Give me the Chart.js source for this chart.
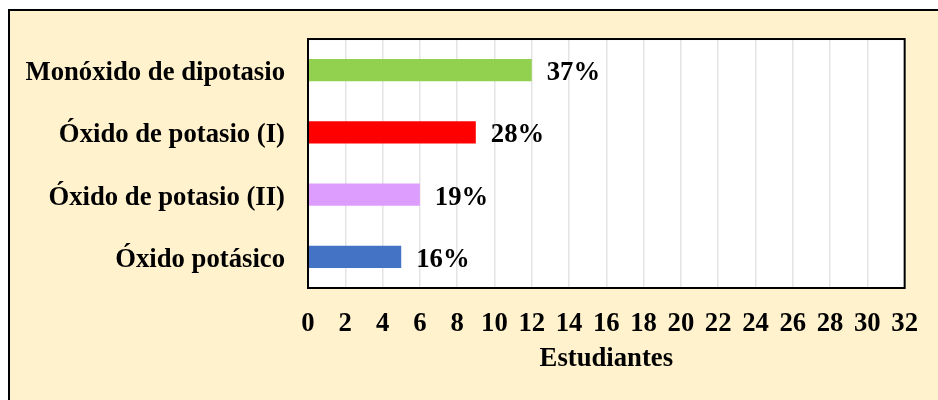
<!DOCTYPE html>
<html>
<head>
<meta charset="utf-8">
<script src="https://cdn.jsdelivr.net/npm/chart.js@4"></script>
<style>
  html, body { margin: 0; padding: 0; width: 938px; height: 400px; overflow: hidden; background: #fff; }
  #frame { position: absolute; left: 8px; top: 9px; width: 960px; height: 420px; border: 2px solid #000; background: #fff2cc; }
  #wrap { position: absolute; left: 0; top: 0; width: 938px; height: 400px; }
</style>
</head>
<body>
<div id="frame"></div>
<div id="wrap"><canvas id="chart"></canvas></div>
<script>
const categories = ["Monóxido de dipotasio", "Óxido de potasio (I)", "Óxido de potasio (II)", "Óxido potásico"];
const students = [12, 9, 6, 5];
const percentLabels = ["37%", "28%", "19%", "16%"];
const barColors = ["#92d050", "#ff0000", "#dd9dff", "#4472c4"];
const xMin = 0, xMax = 32, xStep = 2;

const FONT = { family: "'Liberation Serif', 'Times New Roman', serif", size: 26.7, weight: "bold" };

// white plot area + black frame
const plotFrame = {
  id: "plotFrame",
  beforeDraw(chart) {
    const { ctx, chartArea: a } = chart;
    ctx.save();
    ctx.fillStyle = "#ffffff";
    ctx.fillRect(a.left, a.top, a.right - a.left, a.bottom - a.top);
    ctx.restore();
  },
  afterDraw(chart) {
    const { ctx, chartArea: a } = chart;
    ctx.save();
    ctx.strokeStyle = "#000";
    ctx.lineWidth = 2;
    ctx.strokeRect(a.left, a.top, a.right - a.left, a.bottom - a.top);
    ctx.restore();
  },
};

// percentage labels after each bar
const barLabels = {
  id: "barLabels",
  afterDatasetsDraw(chart) {
    const { ctx } = chart;
    const meta = chart.getDatasetMeta(0);
    ctx.save();
    ctx.font = `${FONT.weight} ${FONT.size}px ${FONT.family}`;
    ctx.fillStyle = "#000";
    ctx.textAlign = "left";
    ctx.textBaseline = "middle";
    meta.data.forEach((bar, i) => {
      ctx.fillText(percentLabels[i], bar.x + 15, bar.y + 3);
    });
    ctx.restore();
  },
};

new Chart(document.getElementById("chart"), {
  type: "bar",
  data: {
    labels: categories,
    datasets: [{
      data: students,
      backgroundColor: barColors,
      borderWidth: 0,
      categoryPercentage: 1,
      barPercentage: 0.355,
    }],
  },
  options: {
    indexAxis: "y",
    responsive: true,
    maintainAspectRatio: false,
    animation: false,
    layout: { padding: { top: 38, right: 31, left: 0, bottom: 0 } },
    plugins: { legend: { display: false }, tooltip: { enabled: false } },
    scales: {
      x: {
        min: xMin, max: xMax,
        afterFit: (s) => { s.height = 112; },
        ticks: { stepSize: xStep, color: "#000", font: FONT, padding: 20, maxRotation: 0, autoSkip: false },
        grid: { color: "#e4e4e4", lineWidth: 1.5, drawTicks: false },
        border: { display: false },
        title: { display: true, text: "Estudiantes", color: "#000", font: FONT, padding: { top: 0, bottom: 25 } },
      },
      y: {
        afterFit: (s) => { s.width = 308; },
        ticks: { color: "#000", font: FONT, padding: 23, labelOffset: 3 },
        grid: { display: false, drawTicks: false },
        border: { display: false },
      },
    },
  },
  plugins: [plotFrame, barLabels],
});
</script>
</body>
</html>
